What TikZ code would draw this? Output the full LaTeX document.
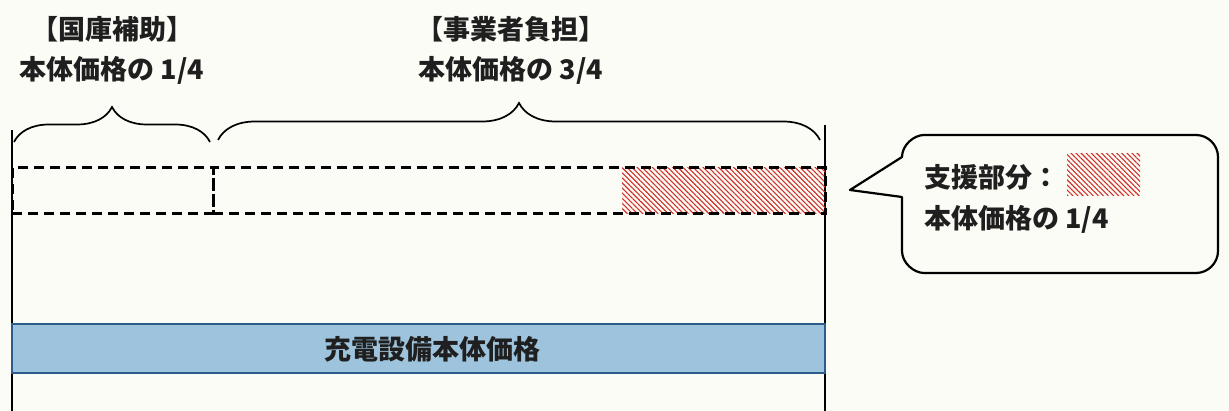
\documentclass[tikz,border=0pt]{standalone}
\usepackage{fontspec}
\setmainfont{Noto Sans CJK JP}
\usetikzlibrary{decorations.pathreplacing,patterns.meta}
\definecolor{paper}{HTML}{FCFCF6}
\definecolor{hatchred}{HTML}{D0302A}
\definecolor{barfill}{HTML}{9EC4DD}
\definecolor{barline}{HTML}{2C5C8C}
\tikzset{
  txt/.style={font=\fontsize{27}{32}\selectfont\bfseries, inner sep=0pt, text=black!88},
  dashbox/.style={draw, line width=3pt, dash pattern=on 10pt off 6pt, inner sep=0pt, outer sep=0pt, anchor=north west},
  bracestyle/.style={decorate, decoration={brace, amplitude=#1}, line width=1.7pt},
  hatch/.style={pattern={Lines[angle=-45,distance=3.6pt,line width=1.1pt]}, pattern color=hatchred},
  barbox/.style={draw=barline, fill=barfill, line width=1.8pt, inner sep=0pt, outer sep=0pt, anchor=north west},
  vline/.style={line width=1.6pt},
  calloutline/.style={line width=2.2pt, line join=round}
}
\begin{document}
\begin{tikzpicture}[x=1pt,y=-1pt]
\fill[paper] (0,0) rectangle (1229,411);
\useasboundingbox (0,0) rectangle (1229,411);

% header texts
\node[txt] (h1) at (112,29) {【国庫補助】};
\node[txt] (h1b) at (112,70) {本体価格の 1/4};
\node[txt] (h2) at (511,29) {【事業者負担】};
\node[txt] (h2b) at (511,70) {本体価格の 3/4};

% vertical boundary lines
\coordinate (l1) at (12,130);
\coordinate (l2) at (12,411);
\coordinate (r1) at (825,125);
\coordinate (r2) at (825,411);
\draw[vline] (l1) -- (l2);
\draw[vline] (r1) -- (r2);

% braces
\coordinate (b1s) at (14,142);
\coordinate (b1e) at (210,142);
\coordinate (b2s) at (218,140);
\coordinate (b2e) at (820,140);
\draw[bracestyle=35pt] (b1s) -- (b1e);
\draw[bracestyle=37pt] (b2s) -- (b2e);

% hatched support area
\fill[hatch] (622,168) rectangle (825,214);

% dashed boxes
\node[dashbox, minimum width=201pt, minimum height=46pt] (box1) at (12,168) {};
\node[dashbox, minimum width=612pt, minimum height=46pt] (box2) at (213,168) {};

% base bar
\node[barbox, minimum width=813pt, minimum height=49pt] (bar) at (12,324) {};
\node[txt] (bartext) at (432,349.5) {充電設備本体価格};

% callout
\draw[calloutline, fill=paper] (850,190) -- (902,157)
  .. controls (902,145) and (914,135) .. (924,135) -- (1196,135)
  .. controls (1208,135) and (1218,145) .. (1218,157) -- (1218,251)
  .. controls (1218,263) and (1208,273) .. (1196,273) -- (924,273)
  .. controls (914,273) and (902,263) .. (902,251) -- (902,197) -- cycle;
\node[txt, anchor=west] (c1) at (924,177) {支援部分：};
\fill[hatch] (1067,154) rectangle (1140,196);
\node[txt, anchor=west] (c2) at (924,219) {本体価格の 1/4};
\end{tikzpicture}
\end{document}
